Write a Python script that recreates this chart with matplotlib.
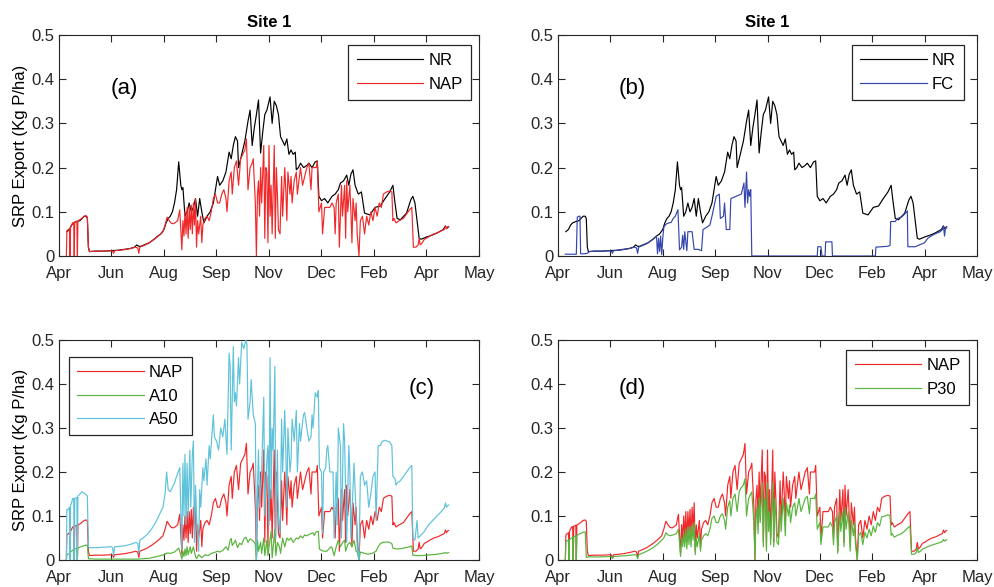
import matplotlib
matplotlib.use("Agg")
import matplotlib.pyplot as plt
import numpy as np

plt.rcParams['font.family'] = ['Liberation Sans', 'DejaVu Sans']

# ---------------- data (day since axis start, value in Kg P/ha) ----------------
month_ticks = [0, 50, 100, 150, 200, 250, 300, 350, 400]
month_labels = ['Apr', 'Jun', 'Aug', 'Sep', 'Nov', 'Dec', 'Feb', 'Apr', 'May']
y_ticks = [0, 0.1, 0.2, 0.3, 0.4, 0.5]
y_labels = ['0', '0.1', '0.2', '0.3', '0.4', '0.5']

nr = [(7.5, 0.055), (10, 0.06), (12, 0.07), (14, 0.075), (17, 0.078), (20, 0.08), (22, 0.085), (24, 0.09),
      (26, 0.09), (27, 0.085), (28, 0.02), (29, 0.01), (35, 0.011), (42, 0.011), (50, 0.012), (56, 0.013),
      (62, 0.015), (68, 0.017), (72, 0.02), (74, 0.025), (76, 0.022), (78, 0.022), (82, 0.026), (86, 0.03),
      (90, 0.037), (94, 0.045), (97, 0.05), (100, 0.06), (102, 0.075), (104, 0.085), (106, 0.09), (108, 0.1),
      (110, 0.12), (112, 0.15), (114, 0.213), (116, 0.16), (117, 0.15), (118, 0.155), (120, 0.09), (122, 0.1),
      (124, 0.12), (126, 0.1), (128, 0.11), (130, 0.13), (132, 0.09), (134, 0.13), (136, 0.1), (138, 0.075),
      (141, 0.09), (144, 0.1), (147, 0.12), (149, 0.15), (151, 0.18), (153, 0.16), (156, 0.17), (159, 0.19),
      (162, 0.235), (164, 0.22), (166, 0.25), (168, 0.27), (170, 0.26), (171, 0.2), (173, 0.22), (175, 0.24),
      (177, 0.26), (180, 0.305), (182, 0.33), (184, 0.25), (186, 0.29), (188, 0.32), (190, 0.353), (192, 0.233),
      (194, 0.28), (196, 0.32), (198, 0.33), (201, 0.36), (203, 0.3), (205, 0.35), (207, 0.34), (209, 0.32),
      (211, 0.27), (213, 0.26), (215, 0.25), (217, 0.265), (219, 0.23), (221, 0.24), (223, 0.23), (225, 0.235),
      (226, 0.195), (228, 0.2), (230, 0.21), (233, 0.2), (236, 0.205), (238, 0.21), (241, 0.2), (244, 0.213),
      (246, 0.215), (247.5, 0.135), (250, 0.125), (253, 0.13), (256, 0.12), (260, 0.135), (263, 0.14),
      (266, 0.15), (268, 0.165), (271, 0.17), (274, 0.183), (276, 0.16), (278, 0.185), (280, 0.195),
      (282, 0.16), (285, 0.14), (288, 0.145), (291, 0.097), (296, 0.093), (301, 0.11), (306, 0.113),
      (310, 0.128), (315, 0.145), (318, 0.16), (320, 0.12), (322, 0.085), (325, 0.082), (331, 0.097),
      (335, 0.127), (337, 0.135), (339, 0.12), (341, 0.08), (343, 0.04), (345, 0.038), (350, 0.043),
      (355, 0.047), (360, 0.052), (366, 0.06), (368, 0.068), (369, 0.062), (371, 0.066)]

nap = [(7, 0.0), (7.5, 0.057), (9, 0.06), (10, 0.062), (10.5, 0.0), (11, 0.065), (12, 0.07), (13, 0.075),
       (14, 0.076), (14.5, 0.0), (15, 0.077), (16, 0.078), (17, 0.079), (17.5, 0.0), (18, 0.08), (20, 0.082),
       (22, 0.086), (24, 0.09), (26, 0.091), (27, 0.088), (28, 0.02), (29, 0.01), (35, 0.011), (42, 0.011),
       (50, 0.012), (51, 0.011), (52, 0.006), (53, 0.012), (58, 0.013), (64, 0.015), (70, 0.018), (73, 0.02),
       (75, 0.018), (76, 0.006), (77, 0.02), (80, 0.023), (84, 0.027), (88, 0.033), (92, 0.04), (96, 0.048),
       (99, 0.055), (101, 0.07), (103, 0.088), (105, 0.08), (107, 0.074), (109, 0.073), (111, 0.076),
       (113, 0.08), (115, 0.104), (116, 0.06), (117, 0.014), (118, 0.08), (119, 0.045), (120, 0.1),
       (121, 0.05), (122, 0.11), (123, 0.04), (124, 0.11), (125, 0.06), (126, 0.115), (127, 0.05),
       (128, 0.12), (129, 0.07), (130, 0.13), (131, 0.02), (132, 0.08), (133, 0.05), (135, 0.09),
       (136, 0.03), (137, 0.07), (139, 0.085), (141, 0.09), (143, 0.08), (145, 0.1), (147, 0.13),
       (149, 0.14), (151, 0.12), (153, 0.12), (155, 0.14), (157, 0.15), (159, 0.13), (160, 0.1),
       (162, 0.17), (164, 0.19), (165, 0.14), (167, 0.2), (169, 0.215), (171, 0.16), (173, 0.22),
       (175, 0.23), (177, 0.24), (178.5, 0.265), (180, 0.15), (182, 0.2), (184, 0.21), (185, 0.22),
       (186, 0.17), (187, 0.12), (188, 0.0), (189, 0.14), (190, 0.17), (191, 0.09), (192, 0.2),
       (193, 0.12), (195, 0.25), (196, 0.04), (197, 0.2), (198, 0.19), (199, 0.03), (200, 0.25),
       (201, 0.09), (202, 0.16), (203, 0.05), (205, 0.25), (206, 0.04), (207, 0.2), (208, 0.14),
       (209, 0.06), (210.5, 0.05), (212, 0.18), (213, 0.09), (215, 0.2), (216, 0.15), (217, 0.08),
       (218, 0.19), (220, 0.14), (221, 0.18), (222, 0.12), (224, 0.17), (226, 0.19), (227, 0.14),
       (229, 0.18), (230, 0.2), (232, 0.16), (234, 0.18), (236, 0.2), (238, 0.21), (240, 0.15),
       (241, 0.2), (243, 0.2), (245, 0.2), (246, 0.215), (247.5, 0.1), (250, 0.12), (251, 0.05),
       (253, 0.11), (255, 0.11), (258, 0.11), (260, 0.12), (262, 0.11), (263, 0.05), (264, 0.12),
       (266, 0.14), (267, 0.02), (269, 0.16), (270, 0.09), (272, 0.16), (273, 0.04), (274, 0.17),
       (275, 0.1), (277, 0.16), (278, 0.1), (279, 0.03), (280, 0.13), (282, 0.08), (283, 0.12),
       (284, 0.05), (285.7, 0.0), (287, 0.08), (289, 0.09), (291, 0.05), (293, 0.09), (295, 0.07),
       (297, 0.1), (299, 0.08), (301, 0.11), (303, 0.09), (305, 0.12), (307, 0.11), (309, 0.14),
       (312, 0.145), (315, 0.147), (317, 0.145), (318, 0.08), (319, 0.085), (321, 0.075), (324, 0.08),
       (328, 0.085), (331, 0.095), (334, 0.105), (336, 0.11), (337.5, 0.02), (340, 0.02), (342, 0.025),
       (343, 0.04), (344, 0.025), (346, 0.03), (348, 0.038), (350, 0.04), (353, 0.045), (357, 0.05),
       (361, 0.053), (365, 0.058), (367, 0.06), (368, 0.068), (369, 0.062), (370, 0.066), (371, 0.067)]

fc = [(7, 0.004), (10, 0.004), (14, 0.004), (17.5, 0.004), (18.4, 0.088), (20, 0.09), (21, 0.09),
      (21.6, 0.005), (25, 0.005), (28, 0.006), (30, 0.01), (35, 0.011), (42, 0.011), (50, 0.012),
      (51, 0.011), (52, 0.006), (53, 0.012), (58, 0.013), (64, 0.015), (70, 0.018), (73, 0.02),
      (75, 0.018), (76, 0.006), (77, 0.02), (80, 0.023), (84, 0.027), (88, 0.033), (92, 0.04),
      (94, 0.045), (95, 0.005), (96, 0.04), (97, 0.01), (98, 0.045), (99, 0.003), (100, 0.04),
      (101, 0.065), (103, 0.072), (106, 0.075), (108, 0.076), (110, 0.085), (112, 0.09), (114.5, 0.105),
      (116, 0.014), (118, 0.02), (119, 0.047), (120, 0.015), (121, 0.055), (123, 0.012), (124, 0.055),
      (128, 0.055), (130, 0.015), (134, 0.015), (137, 0.012), (138.5, 0.06), (142, 0.065), (145, 0.07),
      (147, 0.09), (151, 0.135), (154, 0.14), (155, 0.085), (158, 0.09), (159, 0.12), (160.6, 0.06),
      (164, 0.06), (165, 0.13), (170, 0.135), (175, 0.14), (177.5, 0.165), (178.5, 0.11), (180, 0.19),
      (181, 0.12), (182, 0.15), (183, 0.135), (184, 0.15), (185, 0.0), (247.5, 0.0), (248, 0.021),
      (251, 0.021), (252, 0.0), (255, 0.0), (255.5, 0.032), (261.5, 0.032), (262, 0.0), (303, 0.0),
      (303.5, 0.02), (315, 0.022), (317, 0.024), (317.6, 0.078), (322, 0.078), (324, 0.085),
      (328, 0.088), (331, 0.095), (333.5, 0.102), (334, 0.021), (341, 0.021), (345, 0.025), (350, 0.03),
      (353, 0.04), (356, 0.045), (360, 0.05), (365, 0.055), (367, 0.06), (368, 0.068), (369, 0.045),
      (370, 0.065), (371, 0.063)]

a10 = [(7, 0.0), (7.5, 0.012), (10, 0.015), (10.5, 0.0), (11, 0.018), (13, 0.022), (14, 0.025), (14.5, 0.0),
       (15, 0.026), (17, 0.027), (17.5, 0.0), (18, 0.028), (21, 0.03), (24, 0.033), (27, 0.034), (28, 0.003),
       (35, 0.002), (50, 0.002), (75, 0.002), (80, 0.003), (86, 0.004), (90, 0.006), (95, 0.009), (100, 0.012),
       (103, 0.016), (106, 0.015), (110, 0.018), (114, 0.027), (116, 0.012), (117, 0.002), (118, 0.02),
       (119, 0.008), (120, 0.025), (121, 0.01), (122, 0.03), (123, 0.012), (125, 0.03), (126, 0.015),
       (128, 0.03), (130, 0.008), (131, 0.003), (133, 0.012), (136, 0.005), (139, 0.012), (142, 0.01),
       (145, 0.015), (148, 0.017), (151, 0.02), (153, 0.018), (156, 0.022), (159, 0.03), (161, 0.022),
       (163, 0.045), (164, 0.049), (165, 0.033), (167, 0.04), (168, 0.045), (170, 0.028), (172, 0.038),
       (174, 0.035), (176, 0.048), (178, 0.052), (180, 0.04), (182, 0.048), (184, 0.045), (186, 0.04),
       (187, 0.035), (188, 0.0), (189, 0.045), (190, 0.02), (192, 0.04), (193, 0.015), (195, 0.05),
       (196, 0.01), (198, 0.045), (199, 0.01), (202, 0.065), (203, 0.005), (205.6, 0.07), (206.5, 0.01),
       (208, 0.04), (210, 0.03), (211, 0.015), (213, 0.05), (215, 0.03), (217, 0.05), (219, 0.045),
       (221, 0.05), (223, 0.04), (226, 0.05), (228, 0.048), (230, 0.055), (232, 0.05), (234, 0.057),
       (236, 0.055), (238, 0.058), (240, 0.06), (242, 0.062), (243, 0.056), (245, 0.064), (247, 0.065),
       (248, 0.025), (250, 0.022), (252, 0.02), (255, 0.02), (257, 0.025), (259, 0.03), (260, 0.028),
       (262, 0.01), (264, 0.03), (266, 0.045), (268, 0.03), (270, 0.04), (272, 0.045), (273, 0.02),
       (275, 0.035), (277, 0.04), (279, 0.03), (281, 0.045), (283, 0.02), (284, 0.018), (285.7, 0.0),
       (287, 0.018), (290, 0.016), (294, 0.013), (298, 0.015), (302, 0.02), (304, 0.03), (306, 0.037),
       (308, 0.04), (312, 0.041), (315, 0.04), (317, 0.037), (318, 0.027), (322, 0.025), (326, 0.026),
       (330, 0.028), (334, 0.03), (336, 0.032), (337, 0.011), (340, 0.01), (345, 0.01), (350, 0.011),
       (355, 0.012), (360, 0.013), (365, 0.015), (368, 0.017), (369, 0.015), (371, 0.017)]

a50 = [(7, 0.0), (7.5, 0.115), (9, 0.115), (10, 0.12), (10.5, 0.0), (11, 0.125), (12, 0.13), (13, 0.14),
       (14, 0.14), (14.5, 0.0), (15, 0.14), (17, 0.142), (17.5, 0.0), (18, 0.145), (20, 0.15), (22, 0.155),
       (24, 0.152), (26, 0.148), (27, 0.145), (28, 0.03), (29, 0.028), (35, 0.028), (42, 0.029), (50, 0.03),
       (51, 0.028), (52, 0.01), (53, 0.03), (58, 0.031), (64, 0.033), (70, 0.037), (73, 0.04), (75, 0.038),
       (76, 0.016), (77, 0.045), (80, 0.05), (84, 0.058), (88, 0.07), (92, 0.085), (96, 0.105), (99, 0.12),
       (101, 0.15), (102.5, 0.2), (104, 0.16), (106, 0.155), (108, 0.165), (110, 0.175), (112, 0.19),
       (115, 0.21), (116, 0.12), (117, 0.023), (118, 0.22), (119, 0.1), (120, 0.24), (121, 0.08),
       (122, 0.22), (123, 0.1), (124.6, 0.25), (125.5, 0.12), (127, 0.24), (128, 0.27), (129, 0.04),
       (130, 0.17), (131, 0.1), (133, 0.02), (134, 0.16), (135, 0.12), (137, 0.21), (138, 0.18),
       (140, 0.23), (141, 0.17), (143, 0.26), (144, 0.23), (147, 0.33), (148, 0.28), (150, 0.27),
       (152, 0.25), (154, 0.3), (156, 0.28), (158, 0.32), (160, 0.24), (162, 0.47), (163, 0.44),
       (164, 0.25), (166, 0.485), (167, 0.36), (168, 0.38), (169, 0.35), (171, 0.46), (172, 0.4),
       (174, 0.495), (176, 0.48), (178, 0.5), (179, 0.49), (180, 0.32), (182, 0.36), (183, 0.41),
       (185, 0.33), (187, 0.31), (188, 0.0), (189, 0.16), (190, 0.25), (191, 0.12), (193, 0.2),
       (195, 0.37), (196, 0.1), (198, 0.23), (199, 0.26), (200, 0.08), (201, 0.46), (202, 0.14),
       (203, 0.3), (204, 0.25), (205.6, 0.44), (206.5, 0.05), (208, 0.25), (209, 0.1), (210.5, 0.06),
       (212, 0.32), (213, 0.2), (215, 0.34), (216, 0.25), (217, 0.12), (218, 0.3), (220, 0.2),
       (221, 0.23), (222, 0.32), (224, 0.27), (226, 0.34), (227, 0.2), (229, 0.31), (230, 0.27),
       (232.8, 0.33), (234, 0.335), (236, 0.3), (238, 0.27), (240, 0.28), (241, 0.33), (242, 0.3),
       (244, 0.38), (246, 0.37), (247, 0.385), (248, 0.21), (250, 0.2), (251, 0.06), (252, 0.2),
       (254, 0.21), (255, 0.25), (256, 0.26), (258, 0.2), (260, 0.2), (261, 0.2), (262, 0.05),
       (264, 0.2), (265, 0.08), (266, 0.3), (268, 0.26), (269, 0.05), (271, 0.31), (272, 0.27),
       (274, 0.04), (276, 0.26), (277, 0.2), (278, 0.05), (281, 0.22), (283, 0.1), (284, 0.03),
       (285.7, 0.0), (287, 0.19), (289, 0.2), (291, 0.17), (293, 0.18), (295, 0.12), (297, 0.15),
       (299, 0.19), (301, 0.2), (302, 0.09), (304, 0.26), (306, 0.26), (308, 0.27), (310, 0.272),
       (313, 0.27), (315, 0.268), (317, 0.26), (318, 0.19), (320, 0.185), (321, 0.17), (322, 0.175),
       (325, 0.18), (328, 0.19), (331, 0.2), (334, 0.21), (336, 0.215), (337, 0.05), (339, 0.045),
       (341, 0.09), (342, 0.05), (344, 0.055), (346, 0.06), (348, 0.065), (352, 0.08), (356, 0.09),
       (360, 0.1), (364, 0.11), (367, 0.118), (368, 0.13), (369, 0.12), (371, 0.125)]

p30 = [(7, 0.0), (7.5, 0.042), (10, 0.045), (10.5, 0.0), (11, 0.047), (13, 0.05), (14, 0.052), (14.5, 0.0),
       (15, 0.053), (17, 0.055), (17.5, 0.0), (18, 0.056), (21, 0.06), (24, 0.063), (26, 0.064), (27, 0.006),
       (30, 0.007), (40, 0.007), (50, 0.008), (51, 0.007), (52, 0.003), (53, 0.008), (60, 0.009), (66, 0.01),
       (73, 0.012), (75, 0.011), (76, 0.003), (77, 0.012), (80, 0.015), (84, 0.019), (88, 0.024), (92, 0.03),
       (96, 0.038), (99, 0.045), (101, 0.05), (103, 0.062), (105, 0.057), (107, 0.055), (110, 0.057),
       (113, 0.06), (115, 0.07), (116, 0.04), (117, 0.008), (118, 0.05), (119, 0.03), (120, 0.06),
       (121, 0.03), (122, 0.07), (123, 0.025), (124, 0.075), (125, 0.035), (126, 0.075), (127, 0.03),
       (128, 0.08), (129, 0.045), (130, 0.085), (131, 0.012), (132, 0.05), (133, 0.03), (135, 0.06),
       (136, 0.02), (137, 0.045), (139, 0.055), (141, 0.06), (143, 0.055), (145, 0.07), (147, 0.095),
       (149, 0.1), (151, 0.085), (153, 0.085), (155, 0.1), (157, 0.105), (159, 0.09), (160, 0.07),
       (162, 0.12), (164, 0.135), (165, 0.1), (167, 0.14), (169, 0.15), (171, 0.11), (173, 0.155),
       (175, 0.165), (177, 0.17), (178.5, 0.185), (180, 0.1), (182, 0.14), (184, 0.15), (185, 0.155),
       (186, 0.12), (187, 0.085), (188, 0.0), (189, 0.1), (190, 0.12), (191, 0.06), (192, 0.14),
       (193, 0.085), (195, 0.175), (196, 0.03), (197, 0.14), (198, 0.135), (199, 0.02), (200, 0.175),
       (201, 0.065), (202, 0.11), (203, 0.035), (205, 0.175), (206, 0.03), (207, 0.14), (208, 0.1),
       (209, 0.04), (210.5, 0.035), (212, 0.125), (213, 0.065), (215, 0.14), (216, 0.105), (217, 0.055),
       (218, 0.13), (220, 0.1), (221, 0.125), (222, 0.085), (224, 0.12), (226, 0.13), (227, 0.1),
       (229, 0.125), (230, 0.14), (232, 0.11), (234, 0.125), (236, 0.14), (238, 0.145), (240, 0.105),
       (241, 0.14), (243, 0.14), (245, 0.14), (246, 0.15), (247.5, 0.07), (250, 0.085), (251, 0.035),
       (253, 0.075), (255, 0.075), (258, 0.075), (260, 0.085), (262, 0.075), (263, 0.035), (264, 0.085),
       (266, 0.1), (267, 0.015), (269, 0.11), (270, 0.065), (272, 0.11), (273, 0.03), (274, 0.12),
       (275, 0.07), (277, 0.11), (278, 0.07), (279, 0.02), (280, 0.09), (282, 0.055), (283, 0.085),
       (284, 0.035), (285.7, 0.0), (287, 0.055), (289, 0.063), (291, 0.035), (293, 0.063), (295, 0.05),
       (297, 0.07), (299, 0.055), (301, 0.077), (303, 0.063), (305, 0.085), (307, 0.077), (309, 0.098),
       (312, 0.1), (315, 0.103), (317, 0.1), (318, 0.056), (319, 0.06), (321, 0.052), (324, 0.056),
       (328, 0.06), (331, 0.066), (334, 0.073), (336, 0.077), (337.5, 0.013), (340, 0.013), (342, 0.017),
       (343, 0.028), (344, 0.017), (346, 0.02), (348, 0.025), (350, 0.027), (353, 0.03), (357, 0.034),
       (361, 0.037), (365, 0.04), (367, 0.042), (368, 0.047), (369, 0.043), (371, 0.046)]

# ---------------- styling ----------------
C_NR = '#000000'
C_NAP = '#F0282A'
C_FC = '#3446AE'
C_GREEN = '#58B43C'
C_CYAN = '#5EC2DA'
LW = 0.85
FS = 12

fig = plt.figure(figsize=(9.95, 5.87), dpi=100)
positions = {
    'a': [59 / 995, 1 - 256 / 587, 420 / 995, 221 / 587],
    'b': [558 / 995, 1 - 256 / 587, 419 / 995, 221 / 587],
    'c': [59 / 995, 1 - 560 / 587, 420 / 995, 220 / 587],
    'd': [558 / 995, 1 - 560 / 587, 419 / 995, 220 / 587],
}
axes = {k: fig.add_axes(v) for k, v in positions.items()}


def xy(pts):
    arr = np.array(pts, dtype=float)
    return arr[:, 0], arr[:, 1]


def style(ax):
    ax.set_xlim(0, 400)
    ax.set_ylim(0, 0.5)
    ax.set_xticks(month_ticks)
    ax.set_xticklabels(month_labels)
    ax.set_yticks(y_ticks)
    ax.set_yticklabels(y_labels)
    ax.tick_params(direction='in', top=True, right=True, length=5, width=0.8,
                   labelsize=FS, colors='#262626')
    ax.tick_params(axis='x', pad=7)
    ax.tick_params(axis='y', pad=3)
    for s in ax.spines.values():
        s.set_linewidth(0.8)
        s.set_color('#262626')


def legend(ax, loc, anchor):
    lg = ax.legend(loc=loc, bbox_to_anchor=anchor, borderaxespad=0, fontsize=FS,
                   handlelength=4.0, handletextpad=0.3, borderpad=0.5, labelspacing=0.5,
                   fancybox=False, framealpha=1, edgecolor='#262626')
    lg.get_frame().set_linewidth(0.9)


# (a)
ax = axes['a']
ax.plot(*xy(nr), color=C_NR, lw=LW, label='NR', zorder=3)
ax.plot(*xy(nap), color=C_NAP, lw=LW, label='NAP', zorder=3)
style(ax)
ax.set_title('Site 1', fontsize=FS, fontweight='bold')
ax.set_ylabel('SRP Export (Kg P/ha)', fontsize=FS, labelpad=2.5)
ax.text(62, 0.38, '(a)', fontsize=16, ha='center', va='center')
legend(ax, 'upper right', (0.981, 0.955))

# (b)
ax = axes['b']
ax.plot(*xy(nr), color=C_NR, lw=LW, label='NR', zorder=3)
ax.plot(*xy(fc), color=C_FC, lw=LW, label='FC', zorder=3)
style(ax)
ax.set_title('Site 1', fontsize=FS, fontweight='bold')
ax.text(70.6, 0.38, '(b)', fontsize=16, ha='center', va='center')
legend(ax, 'upper right', (0.969, 0.955))

# (c)
ax = axes['c']
ax.plot(*xy(nap), color=C_NAP, lw=LW, label='NAP', zorder=3)
ax.plot(*xy(a10), color=C_GREEN, lw=LW, label='A10', zorder=3)
ax.plot(*xy(a50), color=C_CYAN, lw=LW, label='A50', zorder=3)
style(ax)
ax.set_ylabel('SRP Export (Kg P/ha)', fontsize=FS, labelpad=2.5)
ax.text(345, 0.39, '(c)', fontsize=16, ha='center', va='center')
legend(ax, 'upper left', (0.024, 0.923))

# (d)
ax = axes['d']
ax.plot(*xy(nap), color=C_NAP, lw=LW, label='NAP', zorder=3)
ax.plot(*xy(p30), color=C_GREEN, lw=LW, label='P30', zorder=3)
style(ax)
ax.text(71, 0.39, '(d)', fontsize=16, ha='center', va='center')
legend(ax, 'upper right', (0.981, 0.955))

fig.savefig('out.png', dpi=100)
